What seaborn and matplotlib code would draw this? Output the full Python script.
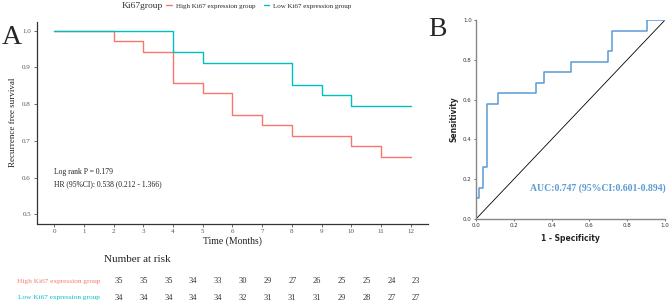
#%%
'''PACKAGE IMPORTS'''
import pandas as pd
import matplotlib.pyplot as plt
from matplotlib.lines import Line2D
import seaborn as sns

# %%
'''Chart data'''
months = [0, 1, 2, 3, 4, 5, 6, 7, 8, 9, 10, 11, 12]

#KM step points (time, survival)
highTime = [0, 2, 3, 4, 5, 6, 7, 8, 10, 11, 12]
highSurv = [1.0, 0.971, 0.943, 0.857, 0.829, 0.771, 0.743, 0.714, 0.686, 0.657, 0.657]
lowTime = [0, 4, 5, 8, 9, 10, 12]
lowSurv = [1.0, 0.941, 0.912, 0.853, 0.824, 0.794, 0.794]

#Number at risk
highRisk = [35, 35, 35, 34, 33, 30, 29, 27, 26, 25, 25, 24, 23]
lowRisk = [34, 34, 34, 34, 34, 32, 31, 31, 31, 29, 28, 27, 27]

highLab = 'High Ki67 expression group'
lowLab = 'Low Ki67 expression group'

#ROC points
fpr = [0.0, 0.0, 0.014, 0.035, 0.056, 0.115, 0.317, 0.358, 0.5, 0.70, 0.72, 0.903, 1.0]
tpr = [0.0, 0.105, 0.158, 0.263, 0.579, 0.632, 0.684, 0.737, 0.789, 0.842, 0.947, 1.0, 1.0]

highCol = '#F8766D'
lowCol = '#00BFC4'
rocCol = '#5B9BD5'

# %%
sns.set_style('white')
plt.rcParams['font.family'] = ['Liberation Serif', 'DejaVu Serif']

W, H = 669, 302
fig = plt.figure(figsize = (W/100, H/100), dpi = 100)

def box(x0, y0, x1, y1):
    return [x0/W, 1 - y1/H, (x1 - x0)/W, (y1 - y0)/H]

'''Panel A: KM curves'''
ax = fig.add_axes(box(36.5, 21.5, 428.5, 223.5))
kmHigh = pd.DataFrame({'t': highTime, 's': highSurv})
kmLow = pd.DataFrame({'t': lowTime, 's': lowSurv})
sns.lineplot(data = kmHigh, x = 't', y = 's', ax = ax, color = highCol,
             drawstyle = 'steps-post', estimator = None, sort = False, linewidth = 1)
sns.lineplot(data = kmLow, x = 't', y = 's', ax = ax, color = lowCol,
             drawstyle = 'steps-post', estimator = None, sort = False, linewidth = 1)

ax.set_xlim(-0.6, 12.6)
ax.set_ylim(0.475, 1.025)
ax.set_xticks(months)
ax.set_yticks([0.5, 0.6, 0.7, 0.8, 0.9, 1.0])
ax.set_yticklabels(['0.5', '0.6', '0.7', '0.8', '0.9', '1.0'])
for s in ['top', 'right']:
    ax.spines[s].set_visible(False)
for s in ['left', 'bottom']:
    ax.spines[s].set_color('#333333')
    ax.spines[s].set_linewidth(0.9)
ax.tick_params(axis = 'both', labelsize = 5, colors = '#555555', length = 2,
               width = 0.6, pad = 2, left = True, bottom = True)
ax.set_xlabel('Time (Months)', fontsize = 7, color = '#222222', labelpad = 2)
ax.set_ylabel('Recurrence free survival', fontsize = 6.5, color = '#222222', labelpad = 4)
ax.text(0, 0.615, 'Log rank P = 0.179', fontsize = 5.5, va = 'center', color = '#222222')
ax.text(0, 0.583, 'HR (95%CI): 0.538 (0.212 - 1.366)', fontsize = 5.5, va = 'center', color = '#222222')

#Legend across the top
fig.text(122/W, 1 - 6/H, 'Ki67group', fontsize = 6.8, va = 'center', ha = 'left', color = '#333333')
handles = [Line2D([], [], color = highCol, linewidth = 1),
           Line2D([], [], color = lowCol, linewidth = 1)]
fig.legend(handles, [highLab, lowLab], ncol = 2, loc = 'center left',
           bbox_to_anchor = (166/W, 1 - 6/H), frameon = False, fontsize = 5,
           handlelength = 0.8, handletextpad = 0.6, columnspacing = 1.2,
           borderaxespad = 0, borderpad = 0)

fig.text(2/W, 1 - 37/H, 'A', fontsize = 20, va = 'center', ha = 'left')

'''Number at risk table'''
tab = fig.add_axes(box(104.2, 250, 430.9, 302))
tab.set_xlim(-0.6, 12.6)
tab.set_ylim(0, 52)
tab.axis('off')
tab.text(-0.6, 43, 'Number at risk', fontsize = 8, va = 'center', ha = 'left')
tab.text(-0.77, 21, highLab, fontsize = 5.2, color = highCol, va = 'center', ha = 'right')
tab.text(-0.77, 4.5, lowLab, fontsize = 5.2, color = lowCol, va = 'center', ha = 'right')
for m, h, l in zip(months, highRisk, lowRisk):
    tab.text(m, 21, str(h), fontsize = 6, va = 'center', ha = 'center', color = '#333333')
    tab.text(m, 4.5, str(l), fontsize = 6, va = 'center', ha = 'center', color = '#333333')

'''Panel B: ROC'''
ax2 = fig.add_axes(box(476, 20, 665, 219))
roc = pd.DataFrame({'fpr': fpr, 'tpr': tpr})
ax2.plot([0, 1], [0, 1], color = 'black', linewidth = 0.6)
sns.lineplot(data = roc, x = 'fpr', y = 'tpr', ax = ax2, color = rocCol,
             drawstyle = 'steps-post', estimator = None, sort = False, linewidth = 1.1)
ax2.set_xlim(0, 1)
ax2.set_ylim(0, 1)
ticks = [0.0, 0.2, 0.4, 0.6, 0.8, 1.0]
tickLabs = ['0.0', '0.2', '0.4', '0.6', '0.8', '1.0']
ax2.set_xticks(ticks)
ax2.set_xticklabels(tickLabs)
ax2.set_yticks(ticks)
ax2.set_yticklabels(tickLabs)
for s in ['top', 'right']:
    ax2.spines[s].set_visible(False)
for s in ['left', 'bottom']:
    ax2.spines[s].set_color('#888888')
    ax2.spines[s].set_linewidth(1)
ax2.tick_params(axis = 'both', labelsize = 4, colors = '#333333', length = 1.5,
                width = 0.5, pad = 1.5, left = True, bottom = True)
for lab in ax2.get_xticklabels() + ax2.get_yticklabels():
    lab.set_family('DejaVu Sans')
ax2.set_xlabel('1 - Specificity', fontsize = 5.5, fontweight = 'bold',
               family = 'DejaVu Sans', labelpad = 4)
ax2.set_ylabel('Sensitivity', fontsize = 5.5, fontweight = 'bold',
               family = 'DejaVu Sans', labelpad = 3)
ax2.text(0.285, 0.157, 'AUC:0.747 (95%CI:0.601-0.894)', fontsize = 7,
         fontweight = 'bold', color = rocCol, va = 'center', ha = 'left')

fig.text(428/W, 1 - 30/H, 'B', fontsize = 20, va = 'center', ha = 'left')

plt.savefig('out.png', dpi = 100)
